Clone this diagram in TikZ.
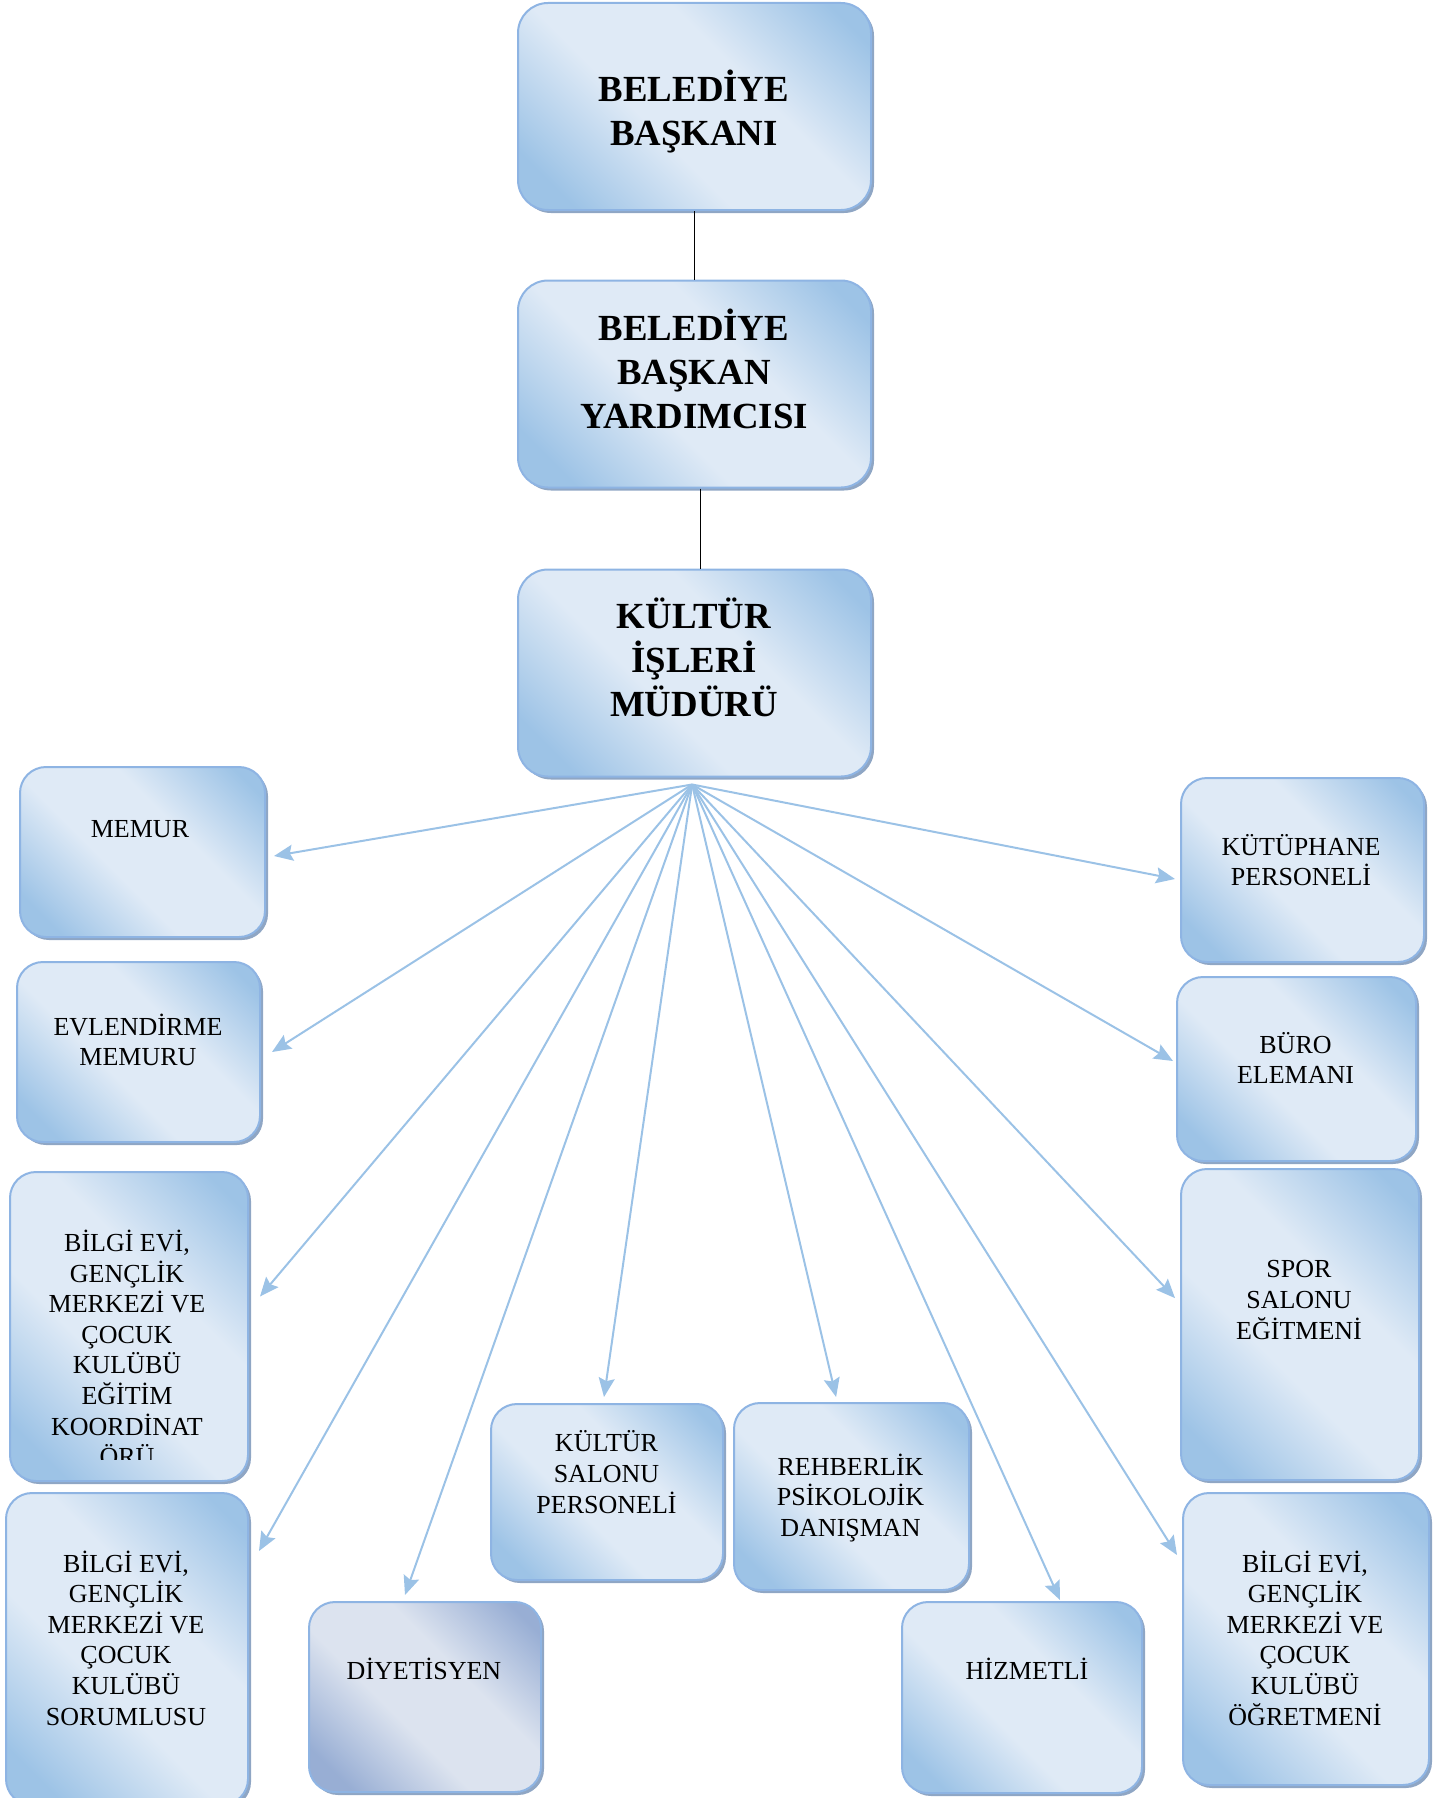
\documentclass[tikz,border=0pt]{standalone}
\usepackage{fontspec}
\setmainfont{Liberation Serif}
\usetikzlibrary{arrows.meta,shadows}
\definecolor{boxlite}{HTML}{DFEAF6}
\definecolor{boxdark}{HTML}{9DC3E6}
\definecolor{boxedge}{HTML}{8EB4E3}
\definecolor{shadowx}{HTML}{8FA6C4}
\definecolor{arrowx}{HTML}{9BC2E6}
\definecolor{diylite}{HTML}{DCE3EF}
\definecolor{diydark}{HTML}{98AED4}
\pgfdeclarehorizontalshading{boxshade}{100bp}{color(0bp)=(boxdark); color(22bp)=(boxdark); color(42bp)=(boxlite); color(60bp)=(boxlite); color(80bp)=(boxdark); color(100bp)=(boxdark)}
\pgfdeclarehorizontalshading{diyshade}{100bp}{color(0bp)=(diydark); color(22bp)=(diydark); color(42bp)=(diylite); color(60bp)=(diylite); color(80bp)=(diydark); color(100bp)=(diydark)}
\tikzset{
  box/.style={draw=boxedge,line width=1pt,rounded corners=13pt,shade,shading=boxshade,shading angle=45,
    drop shadow={shadow xshift=1.5pt,shadow yshift=-1.5pt,fill=shadowx,opacity=1},inner sep=0pt},
  bigbox/.style={box,rounded corners=15pt,minimum width=176.5pt,minimum height=103.5pt},
  ttl/.style={font=\fontsize{18.4}{22}\selectfont\bfseries,align=center,inner sep=0pt},
  lbl/.style={font=\fontsize{13}{15.3}\selectfont,align=center,inner sep=0pt},
  ln/.style={black,line width=0.8pt},
  ar/.style={-{Stealth[length=9.5pt,width=8pt,inset=1.5pt]},line width=1pt,arrowx}
}
\begin{document}
\begin{tikzpicture}[x=0.5pt,y=-0.5pt]
\useasboundingbox (0,0) rectangle (1448,1798);
% top chain
\node[bigbox] (bsk) at (694.5,106.5) {};
\node[bigbox] (byrd) at (694.5,384) {};
\node[bigbox] (kim) at (694.5,673) {};
\node[ttl] (bsk-t) at (694,112) {BELEDİYE\\BAŞKANI};
\node[ttl] (byrd-t) at (694,369) {BELEDİYE\\BAŞKAN\\YARDIMCISI};
\node[ttl] (kim-t) at (694,657) {KÜLTÜR\\İŞLERİ\\MÜDÜRÜ};
\draw[ln] (bsk.south) -- (byrd.north);
\draw[ln] ([xshift=3pt]byrd.south) -- ([xshift=3pt]kim.north);
% left column
\node[box,minimum width=122.5pt,minimum height=85pt] (memur) at (142.5,852) {};
\node[box,minimum width=121.5pt,minimum height=90pt] (evl) at (138.5,1052) {};
\node[box,minimum width=119pt,minimum height=154.5pt] (koord) at (129,1326.5) {};
\node[box,minimum width=121pt,minimum height=156pt] (sorml) at (127,1649) {};
\node[lbl] (memur-t) at (140,829) {MEMUR};
\node[lbl] (evl-t) at (138,1040) {EVLENDİRME\\MEMURU};
\begin{scope}
\clip (koord.north west) rectangle ([yshift=11.5pt]koord.south east);
\node[lbl] (koord-t) at (127,1348) {BİLGİ EVİ,\\GENÇLİK\\MERKEZİ VE\\ÇOCUK\\KULÜBÜ\\EĞİTİM\\KOORDİNAT\\ÖRÜ};
\end{scope}
\node[lbl] (sorml-t) at (126,1638) {BİLGİ EVİ,\\GENÇLİK\\MERKEZİ VE\\ÇOCUK\\KULÜBÜ\\SORUMLUSU};
% bottom row
\node[box,shading=diyshade,minimum width=116pt,minimum height=95pt] (diyet) at (425,1697) {};
\node[box,minimum width=116pt,minimum height=88pt] (ksalon) at (607,1492) {};
\node[box,minimum width=117.5pt,minimum height=93.5pt] (rehber) at (851.5,1496.5) {};
\node[box,minimum width=120pt,minimum height=95.5pt] (hizmet) at (1022,1697.5) {};
\node[lbl] (diyet-t) at (424,1669) {DİYETİSYEN};
\node[lbl] (ksalon-t) at (606.5,1472) {KÜLTÜR\\SALONU\\PERSONELİ};
\node[lbl] (rehber-t) at (850.5,1498) {REHBERLİK\\PSİKOLOJİK\\DANIŞMAN};
\node[lbl] (hizmet-t) at (1027,1669) {HİZMETLİ};
% right column
\node[box,minimum width=121.5pt,minimum height=92pt] (kutup) at (1302.5,870) {};
\node[box,minimum width=119.5pt,minimum height=92pt] (buro) at (1296.5,1069) {};
\node[box,minimum width=119pt,minimum height=155.5pt] (spor) at (1300,1324.5) {};
\node[box,minimum width=123pt,minimum height=146pt] (ogrt) at (1306,1639) {};
\node[lbl] (kutup-t) at (1301,860) {KÜTÜPHANE\\PERSONELİ};
\node[lbl] (buro-t) at (1295.5,1058) {BÜRO\\ELEMANI};
\node[lbl] (spor-t) at (1299,1300) {SPOR\\SALONU\\EĞİTMENİ};
\node[lbl] (ogrt-t) at (1305,1638) {BİLGİ EVİ,\\GENÇLİK\\MERKEZİ VE\\ÇOCUK\\KULÜBÜ\\ÖĞRETMENİ};
% arrows from the director
\coordinate (hub) at ([xshift=-1.2pt,yshift=-3.5pt]kim.south);
\draw[ar] (hub) -- ([xshift=4pt,yshift=-2pt]memur.east);
\draw[ar] (hub) -- ([xshift=5.5pt]evl.east);
\draw[ar] (hub) -- ([xshift=5.5pt,yshift=15pt]koord.east);
\draw[ar] (hub) -- ([xshift=5pt,yshift=-29.5pt]sorml.north east);
\draw[ar] (hub) -- ([xshift=-10pt,yshift=3pt]diyet.north);
\draw[ar] (hub) -- ([xshift=-1.5pt,yshift=3pt]ksalon.north);
\draw[ar] (hub) -- ([xshift=-7.7pt,yshift=2.5pt]rehber.north);
\draw[ar] (hub) -- ([xshift=19pt,yshift=0.5pt]hizmet.north);
\draw[ar] (hub) -- ([xshift=-2.5pt,yshift=-31.5pt]ogrt.north west);
\draw[ar] (hub) -- ([xshift=-2.5pt,yshift=13.2pt]spor.west);
\draw[ar] (hub) -- ([xshift=-1.5pt,yshift=4pt]buro.west);
\draw[ar] (hub) -- ([xshift=-2.5pt,yshift=-4.5pt]kutup.west);
\end{tikzpicture}
\end{document}
